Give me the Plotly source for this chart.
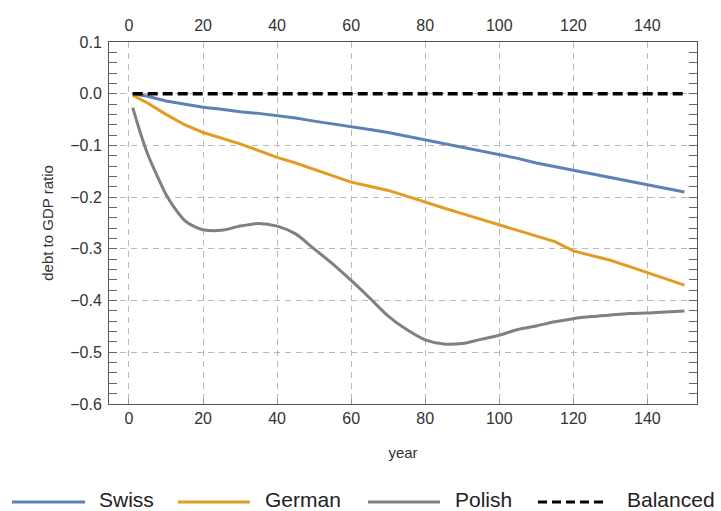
import plotly.graph_objects as go

# ---------------- data ----------------
swiss_years = [1, 5, 10, 15, 20, 25, 30, 35, 40, 45, 50, 55, 60, 65, 70, 75,
               80, 85, 90, 95, 100, 105, 110, 115, 120, 125, 130, 135, 140, 145, 150]
swiss_vals = [0.0, -0.005, -0.014, -0.020, -0.026, -0.030, -0.035, -0.038, -0.042,
              -0.047, -0.053, -0.058, -0.063, -0.069, -0.075, -0.082, -0.090, -0.096,
              -0.103, -0.110, -0.117, -0.125, -0.134, -0.141, -0.149, -0.156, -0.163,
              -0.170, -0.176, -0.183, -0.190]

german_years = swiss_years
german_vals = [-0.003, -0.018, -0.040, -0.060, -0.075, -0.086, -0.097, -0.110, -0.123,
               -0.134, -0.146, -0.158, -0.171, -0.179, -0.187, -0.198, -0.210, -0.221,
               -0.232, -0.243, -0.254, -0.264, -0.275, -0.286, -0.304, -0.313, -0.322,
               -0.334, -0.346, -0.358, -0.370]

polish_years = [1, 3, 5, 8, 10, 12, 15, 18, 20, 25, 30, 35, 40, 45, 50, 55, 60, 65,
                70, 75, 80, 85, 90, 95, 100, 105, 110, 115, 120, 125, 130, 135, 140, 145, 150]
polish_vals = [-0.027, -0.074, -0.116, -0.165, -0.195, -0.218, -0.245, -0.258, -0.263,
               -0.264, -0.256, -0.251, -0.256, -0.271, -0.300, -0.329, -0.361, -0.395,
               -0.430, -0.456, -0.476, -0.484, -0.483, -0.475, -0.467, -0.456, -0.449,
               -0.441, -0.435, -0.431, -0.428, -0.425, -0.424, -0.422, -0.420]

balanced_years = [1, 150]
balanced_vals = [0.0, 0.0]

x_ticks = [0, 20, 40, 60, 80, 100, 120, 140]
y_ticks = [0.1, 0.0, -0.1, -0.2, -0.3, -0.4, -0.5, -0.6]

series_names = ["Swiss", "German", "Polish", "Balanced"]
series_colors = ["#5E81B5", "#E19C24", "#808080", "#000000"]

# ---------------- figure ----------------
W, H = 721, 511
ML, MR, MT, MB = 109, 24, 42, 107
FONT = "Liberation Sans, Arial, sans-serif"

fig = go.Figure()
fig.add_trace(go.Scatter(x=swiss_years, y=swiss_vals, mode="lines", name=series_names[0],
                         line=dict(color=series_colors[0], width=3), showlegend=False))
fig.add_trace(go.Scatter(x=german_years, y=german_vals, mode="lines", name=series_names[1],
                         line=dict(color=series_colors[1], width=3), showlegend=False))
fig.add_trace(go.Scatter(x=polish_years, y=polish_vals, mode="lines", name=series_names[2],
                         line=dict(color=series_colors[2], width=3, shape="spline", smoothing=0.8),
                         showlegend=False))
fig.add_trace(go.Scatter(x=balanced_years, y=balanced_vals, mode="lines", name=series_names[3],
                         line=dict(color=series_colors[3], width=3.5, dash="10px,5px"),
                         showlegend=False))
# invisible trace to activate the top axis
fig.add_trace(go.Scatter(x=balanced_years, y=balanced_vals, mode="lines", xaxis="x2",
                         line=dict(width=0), opacity=0, showlegend=False, hoverinfo="skip"))

xr = [-5.4, 153.4]
axis_common = dict(showline=True, linecolor="#555555", linewidth=1,
                   tickfont=dict(family=FONT, size=16, color="#333333"),
                   zeroline=False)

fig.update_layout(
    width=W, height=H,
    margin=dict(l=ML, r=MR, t=MT, b=MB),
    paper_bgcolor="white", plot_bgcolor="white",
    font=dict(family=FONT, color="#333333"),
    xaxis=dict(range=xr, tickvals=x_ticks, ticks="inside", ticklen=5, tickcolor="#999999",
               showgrid=True, gridcolor="#b8b8b8", gridwidth=1, griddash="6px,5px",
               mirror=True,
               title=dict(text="year", font=dict(family=FONT, size=15, color="#333333"), standoff=21),
               **axis_common),
    xaxis2=dict(range=xr, tickvals=x_ticks, overlaying="x", side="top", anchor="y",
                showgrid=False, showline=False, ticks="", zeroline=False,
                ticklabelstandoff=7,
                tickfont=dict(family=FONT, size=16, color="#333333")),
    yaxis=dict(range=[-0.6, 0.1], tickvals=y_ticks, tickformat=".1f",
               ticks="inside", ticklen=8, tickcolor="#666666", mirror="allticks",
               ticklabelstandoff=3,
               minor=dict(dtick=0.02, tick0=0, ticks="inside", ticklen=5, tickcolor="#666666",
                          showgrid=False),
               showgrid=True, gridcolor="#b8b8b8", gridwidth=1, griddash="6px,5px",
               title=dict(text="debt to GDP ratio", font=dict(family=FONT, size=15, color="#333333"),
                          standoff=12),
               **axis_common),
)

# ---------------- manual legend (long line samples) ----------------
PW = W - ML - MR
PH = H - MT - MB


def px_x(px):
    return (px - ML) / PW


def px_y(py):
    return (H - MB - py) / PH


legend_line_y = 502
legend_text_y = 499
legend_items = [
    (12, 85, 97),
    (178, 250, 263),
    (368, 440, 453),
    (538, 605, 625),
]
for i, (x0, x1, tx) in enumerate(legend_items):
    dash = "9px,5px" if i == 3 else "solid"
    fig.add_shape(type="line", xref="paper", yref="paper",
                  x0=px_x(x0), x1=px_x(x1), y0=px_y(legend_line_y), y1=px_y(legend_line_y),
                  line=dict(color=series_colors[i], width=3, dash=dash))
    fig.add_annotation(xref="paper", yref="paper", x=px_x(tx), y=px_y(legend_text_y),
                       text=series_names[i], showarrow=False, xanchor="left", yanchor="middle",
                       font=dict(family=FONT, size=21, color="#222222"))

fig.write_html("out.html", config={"displayModeBar": False},
               post_script="document.body.style.margin='0';document.body.style.overflow='hidden';")
